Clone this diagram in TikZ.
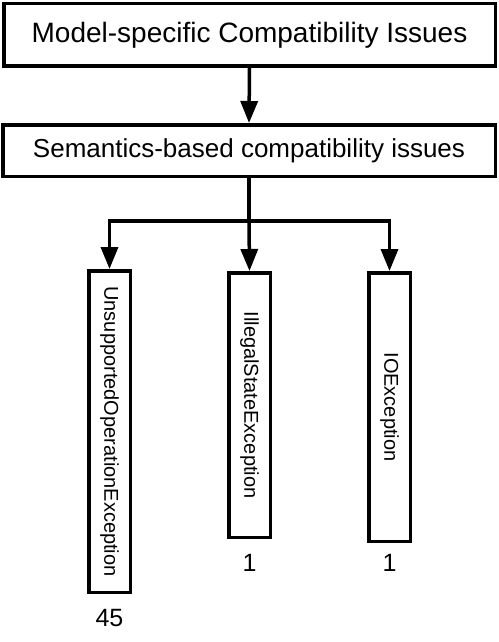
\documentclass[tikz,border=0pt]{standalone}
\usepackage{fontspec}
\setmainfont{Liberation Sans}
\usetikzlibrary{arrows.meta,positioning}

\begin{document}
\begin{tikzpicture}[
    x=1pt, y=-1pt,
    box/.style={
        draw,
        line width=3.5pt,  % heavy outline as in the figure
        inner sep=0pt
    },
    excbox/.style={
        box,
        minimum width=41.5pt,
        font=\fontsize{20}{24}\selectfont
    },
    arr/.style={line width=3.5pt, -{Triangle[width=17pt,length=22pt]}},
    count/.style={font=\fontsize{25}{30}\selectfont, inner sep=0pt}
]
\useasboundingbox (0,0) rectangle (498,642);

% the two category boxes
\node[box, minimum width=491.5pt, minimum height=62.5pt,
      font=\fontsize{28}{34}\selectfont] (model) at (249.5,35)
      {Model-specific Compatibility Issues};
\node[box, minimum width=492.5pt, minimum height=51.5pt,
      font=\fontsize{26}{31}\selectfont] (semantics) at (249,150.5)
      {Semantics-based compatibility issues};

% exception boxes, text runs downwards
\node[excbox, minimum height=321.5pt] (unsup) at (109.5,431.5)
      {\rotatebox{-90}{UnsupportedOperationException}};
\node[excbox, minimum height=264.5pt] (illegal) at (249.5,405)
      {\rotatebox{-90}{IllegalStateException}};
\node[excbox, minimum height=268.5pt] (ioexc) at (389.5,407)
      {\rotatebox{-90}{IOException}};

% counts under each box
\node[count] (nunsup) at ([yshift=-24pt]unsup.south) {45};
\node[count] (nillegal) at ([yshift=-24pt]illegal.south) {1};
\node[count] (nioexc) at (ioexc.south |- nillegal) {1};

\coordinate (split) at (249,221);

\draw[arr] (model.south) -- (semantics.north);
\draw[line width=3.5pt] (semantics.south) -- (split);
\draw[arr] (split) -| (unsup.north);
\draw[arr] (split) -- (illegal.north);
\draw[arr] (split) -| (ioexc.north);
\end{tikzpicture}
\end{document}
